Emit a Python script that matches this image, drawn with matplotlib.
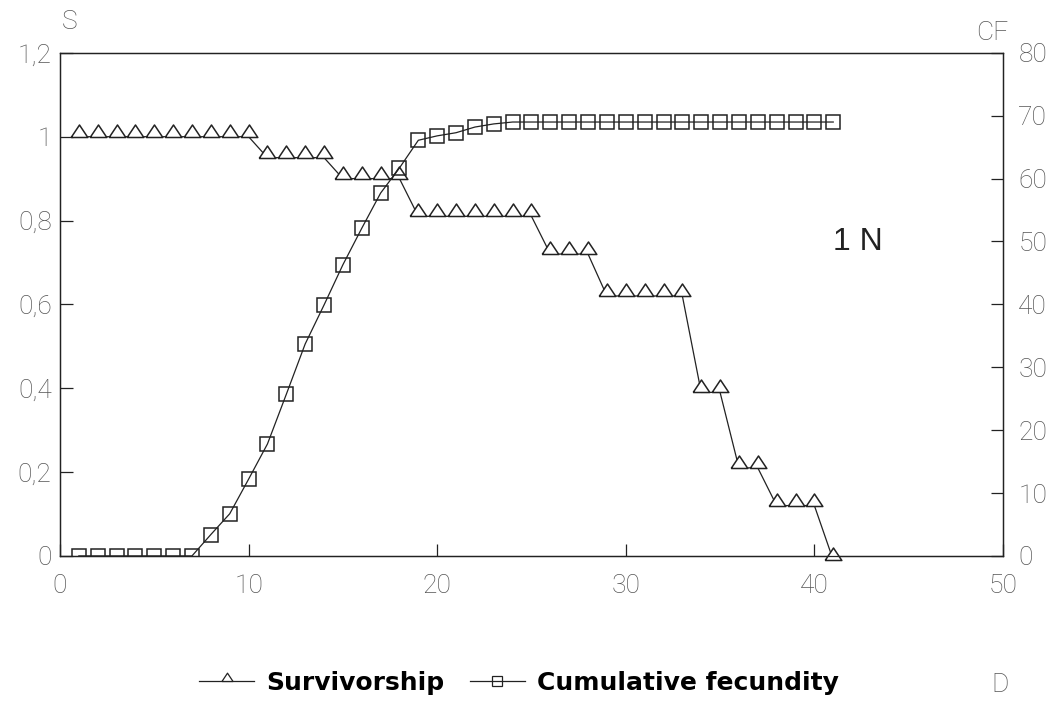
import matplotlib.pyplot as plt
from matplotlib.lines import Line2D

# day index (D)
days = list(range(1, 42))

# survivorship S
survivorship = [1.0, 1.0, 1.0, 1.0, 1.0, 1.0, 1.0, 1.0, 1.0, 1.0,
                0.95, 0.95, 0.95, 0.95,
                0.90, 0.90, 0.90, 0.90,
                0.81, 0.81, 0.81, 0.81, 0.81, 0.81, 0.81,
                0.72, 0.72, 0.72,
                0.62, 0.62, 0.62, 0.62, 0.62,
                0.39, 0.39,
                0.21, 0.21,
                0.12, 0.12, 0.12,
                -0.01]

# cumulative fecundity CF
fecundity = [0, 0, 0, 0, 0, 0, 0, 3.4, 6.7, 12.2, 17.8, 25.7, 33.7, 39.9,
             46.3, 52.1, 57.7, 61.7, 66.1, 66.8, 67.3, 68.2, 68.7,
             69.0, 69.0, 69.0, 69.0, 69.0, 69.0, 69.0, 69.0, 69.0,
             69.0, 69.0, 69.0, 69.0, 69.0, 69.0, 69.0, 69.0, 69.0]

s_ticks = [0, 0.2, 0.4, 0.6, 0.8, 1.0, 1.2]
s_labels = ['0', '0,2', '0,4', '0,6', '0,8', '1', '1,2']
cf_ticks = [0, 10, 20, 30, 40, 50, 60, 70, 80]
d_ticks = [0, 10, 20, 30, 40, 50]

label_font = dict(family=['Roboto', 'DejaVu Sans'], fontweight='light',
                  fontsize=19, color='#555555')

# triangle whose base sits on the data point (lines join at the base)
tri = [(-1, 0), (1, 0), (0, 1.5), (-1, 0)]

fig = plt.figure(figsize=(10.58, 7.01), dpi=100)
ax = fig.add_axes([0.0567, 0.207, 0.8913, 0.7176])
ax2 = ax.twinx()

ax.plot(days, survivorship, color='#222222', lw=0.9, marker=tri, ms=18,
        mfc='white', mec='#222222', mew=1.1, zorder=3, clip_on=False)
ax2.plot(days, fecundity, color='#222222', lw=0.9, marker='s', ms=9.5,
         mfc='none', mec='#222222', mew=1.1, zorder=3)

ax.set_xlim(0, 50)
ax.set_ylim(0, 1.2)
ax2.set_ylim(0, 80)

ax.set_xticks(d_ticks)
ax.set_xticklabels([str(t) for t in d_ticks], **label_font)
ax.set_yticks(s_ticks)
ax.set_yticklabels(s_labels, **label_font)
ax2.set_yticks(cf_ticks)
ax2.set_yticklabels([str(t) for t in cf_ticks], **label_font)

ax.tick_params(axis='x', direction='in', length=9, width=0.9, pad=13,
               color='#222222')
ax.tick_params(axis='y', direction='in', length=9, width=0.9, pad=6,
               color='#222222')
ax2.tick_params(axis='y', direction='in', length=9, width=0.9, pad=11,
                color='#222222')
for a in (ax, ax2):
    for sp in a.spines.values():
        sp.set_linewidth(0.9)
        sp.set_color('#222222')

# axis names placed like the original
fig.text(70 / 1058, 1 - 22 / 701, 'S', ha='center', va='center', **label_font)
fig.text(992 / 1058, 1 - 33 / 701, 'CF', ha='center', va='center', **label_font)
fig.text(1000 / 1058, 1 - 685 / 701, 'D', ha='center', va='center', **label_font)
fig.text(858 / 1058, 1 - 242 / 701, '1 N', ha='center', va='center',
         family=['Liberation Sans', 'DejaVu Sans'], fontsize=23,
         color='#222222')

handles = [
    Line2D([], [], color='#222222', lw=0.9, marker=tri, ms=12,
           mfc='white', mec='#222222', mew=0.9),
    Line2D([], [], color='#222222', lw=0.9, marker='s', ms=7,
           mfc='none', mec='#222222', mew=0.9),
]
fig.legend(handles, ['Survivorship', 'Cumulative fecundity'],
           loc='center', bbox_to_anchor=(519 / 1058, 1 - 683 / 701),
           ncol=2, frameon=False, handlelength=2.2, handletextpad=0.5,
           columnspacing=1.0,
           prop=dict(family=['DejaVu Sans'], weight='bold', size=18))

fig.savefig('out.png', dpi=100)
